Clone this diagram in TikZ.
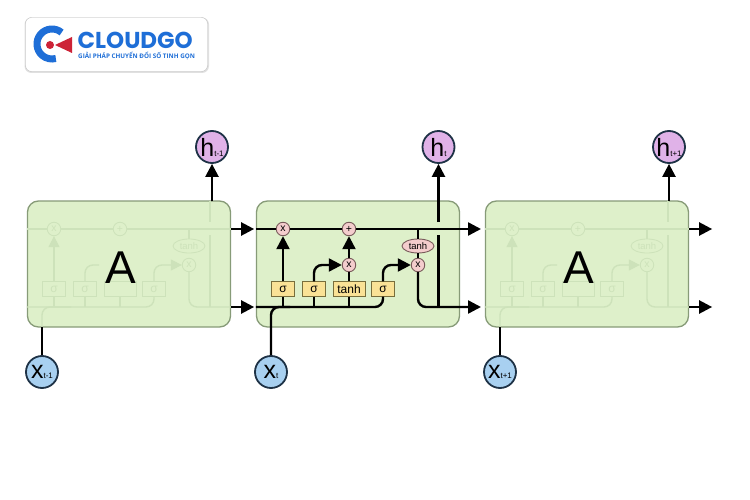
\documentclass[tikz,border=0pt]{standalone}
\usepackage{fontspec}
\setmainfont{Liberation Sans}
\newfontfamily\logofont{Open Sans}
\newfontfamily\logohead{Poppins}
\definecolor{cellfill}{RGB}{222, 240, 202}
\definecolor{celledge}{RGB}{135, 155, 120}
\definecolor{ghostline}{RGB}{205, 226, 186}
\definecolor{layerfill}{RGB}{250, 226, 150}
\definecolor{layeredge}{RGB}{120, 110, 60}
\definecolor{opfill}{RGB}{244, 205, 205}
\definecolor{opedge}{RGB}{120, 90, 90}
\definecolor{inputfill}{RGB}{168, 208, 240}
\definecolor{outputfill}{RGB}{224, 178, 232}
\definecolor{ringedge}{RGB}{30, 50, 70}
\definecolor{logoblue}{RGB}{30, 110, 215}
\definecolor{logored}{RGB}{205, 35, 55}
\usetikzlibrary{arrows.meta, shapes.geometric}
\tikzset{
  cellbox/.style={rectangle, rounded corners=11pt, draw=celledge, line width=1.3pt, fill=cellfill,
    minimum width=203pt, minimum height=126pt, inner sep=0pt},
  wire/.style={line width=2.4pt, black, rounded corners=8pt},
  flow/.style={wire, -{Triangle[length=13pt, width=13pt]}},
  ghostwire/.style={line width=1.4pt, ghostline, rounded corners=8pt},
  ghostflow/.style={ghostwire, -{Triangle[length=11pt, width=11pt]}},
  layerbox/.style={rectangle, draw=layeredge, line width=0.9pt, fill=layerfill, minimum height=14.5pt,
    minimum width=23pt, inner sep=0pt, font=\fontsize{12}{12}\selectfont},
  opnode/.style={circle, draw=opedge, line width=0.9pt, fill=opfill, minimum size=13.5pt, inner sep=0pt,
    font=\fontsize{10.5}{10.5}\selectfont},
  tanhnode/.style={ellipse, draw=opedge, line width=0.9pt, fill=opfill, minimum width=32pt, minimum height=14pt,
    inner sep=0pt, font=\fontsize{9.5}{9.5}\selectfont},
  ghostlayer/.style={rectangle, draw=ghostline, line width=0.8pt, fill=cellfill, minimum height=14.5pt,
    minimum width=23pt, inner sep=0pt, text=ghostline, font=\fontsize{12}{12}\selectfont},
  ghostop/.style={circle, draw=ghostline, line width=0.8pt, fill=cellfill, minimum size=13.5pt, inner sep=0pt,
    text=ghostline, font=\fontsize{10.5}{10.5}\selectfont},
  ghosttanh/.style={ellipse, draw=ghostline, line width=0.8pt, fill=cellfill, minimum width=32pt,
    minimum height=14pt, inner sep=0pt, text=ghostline, font=\fontsize{9.5}{9.5}\selectfont},
  inputnode/.style={circle, draw=ringedge, line width=1.8pt, fill=inputfill, minimum size=32pt, inner sep=0pt},
  outputnode/.style={circle, draw=ringedge, line width=1.8pt, fill=outputfill, minimum size=32pt, inner sep=0pt},
}
\newcommand{\circletext}[2]{{\fontsize{25}{25}\selectfont #1}{\fontsize{8}{8}\selectfont #2}}
\begin{document}
\begin{tikzpicture}[x=1pt, y=-1pt]
  \useasboundingbox (0,0) rectangle (750,500);
  \fill[white] (0,0) rectangle (750,500);

  % logo
  \fill[black!12, rounded corners=7pt] (24.5,17.5) rectangle (209,73);
  \node[rectangle, rounded corners=6pt, draw=black!25, fill=white, minimum width=182pt, minimum height=54pt,
        inner sep=0pt] (logocard) at (116.5,44.5) {};
  \draw[logoblue, line width=7pt] (61.6,32.5) arc[start angle=50, end angle=285, radius=15pt];
  \fill[logored] (72,37) -- (55,45) -- (72,53) -- cycle;
  \fill[logored] (50,45) circle[radius=4pt];
  \node[anchor=west, inner sep=0pt, text=logoblue] (logoname) at (77.5,40.5)
    {\logohead\bfseries\fontsize{23}{23}\selectfont CLOUDGO};
  \node[anchor=west, inner sep=0pt, text=logoblue] (logotag) at (78,56)
    {\logofont\bfseries\fontsize{6.3}{6.3}\selectfont GIẢI PHÁP CHUYỂN ĐỔI SỐ TINH GỌN};

  % side cells
  \foreach \dx/\cellname/\inx/\outx/\cellsub in {-229/left/42/212/t-1, 229/right/500/669/t+1} {
    \begin{scope}[xshift=\dx]
      \node[cellbox] (\cellname box) at (358,264) {};
      \coordinate (\cellname in) at (271,327);
      \coordinate (\cellname tap) at (439,201);
      \node[ghostop] (\cellname m1) at (283,229) {x};
      \node[ghostop] (\cellname p1) at (349,229) {+};
      \node[ghostop] (\cellname m2) at (418,265) {x};
      \node[ghosttanh] (\cellname t) at (418,246) {tanh};
      \node[ghostlayer] (\cellname s1) at (283,289) {σ};
      \node[ghostlayer] (\cellname s2) at (314,289) {σ};
      \node[ghostlayer, minimum width=32pt] (\cellname g) at (349,289) {};
      \node[ghostlayer] (\cellname s3) at (383,289) {σ};
      \draw[ghostwire] (\cellname box.west |- \cellname m1) -- (\cellname m1);
      \draw[ghostwire] (\cellname m1) -- (\cellname p1);
      \draw[ghostwire] (\cellname p1) -- (\cellname box.east |- \cellname p1);
      \draw[ghostwire] (\cellname box.west |- 0,307) -- (383,307) -- (\cellname s3.south);
      \draw[ghostwire] (\cellname in) -- (271,307) -- (300,307);
      \draw[ghostwire] (\cellname s1.south) -- (283,307);
      \draw[ghostwire] (\cellname s2.south) -- (314,307);
      \draw[ghostwire] (\cellname g.south) -- (349,307);
      \draw[ghostflow] (\cellname s1.north) -- (\cellname m1.south);
      \draw[ghostflow] (\cellname s3.north) -- (383,265) -- (\cellname m2.west);
      \draw[ghostwire] (\cellname s2.north) -- (314,265) -- (328,265);
      \draw[ghostwire] (\cellname t.north) -- (418,229);
      \draw[ghostwire] (\cellname m2.south) -- (418,307) -- (\cellname box.east |- 0,307);
      \draw[ghostwire] (\cellname tap) -- (439,222);
      \draw[ghostwire] (439,235) -- (439,307);
      \node[font=\fontsize{46}{46}\selectfont, inner sep=0pt] (\cellname a) at (350,268) {A};
      \coordinate (\cellname top) at (\cellname box.east |- 0,229);
      \coordinate (\cellname bot) at (\cellname box.east |- 0,307);
    \end{scope}
    \node[outputnode] (\cellname h) at (\outx,147) {\circletext{h}{\cellsub}};
    \node[inputnode] (\cellname x) at (\inx,372) {\circletext{x}{\cellsub}};
    \draw[flow] (\cellname h.south |- \cellname tap) -- (\cellname h.south);
    \draw[wire] (\cellname x.north) -- (\cellname x.north |- \cellname in);
    \coordinate (\cellname topend) at ([xshift=23]\cellname top);
    \coordinate (\cellname botend) at ([xshift=23]\cellname bot);
    \draw[flow] (\cellname top) -- (\cellname topend);
    \draw[flow] (\cellname bot) -- (\cellname botend);
  }

  % middle cell
  \node[cellbox] (box) at (358,264) {};
  \node[layerbox] (sigmaf) at (283,289) {σ};
  \node[layerbox] (sigmai) at (314,289) {σ};
  \node[layerbox, minimum width=32pt] (tanhc) at (349,289) {tanh};
  \node[layerbox] (sigmao) at (383,289) {σ};
  \node[outputnode] (ht) at (438.5,147) {\circletext{h}{t}};
  \node[inputnode] (xt) at (271,372) {\circletext{x}{t}};
  \node[opnode] (forget) at (283,229) {x};
  \node[opnode] (add) at (349,229) {+};
  \node[opnode] (gate) at (349,265) {x};
  \node[opnode] (output) at (418,265) {x};
  \node[tanhnode] (tanhout) at (418,246) {tanh};
  \coordinate (cellin) at (box.west |- 0,229);
  \coordinate (cellout) at (481,229);
  \coordinate (hidin) at (box.west |- 0,307);
  \coordinate (hidout) at (481,307);
  \coordinate (tapup) at (438.5,222);
  \coordinate (taplow) at (438.5,235);
  \coordinate (tapjoin) at (438.5,307);

  \draw[wire] (sigmaf.south) -- (sigmaf.south |- hidin);
  \draw[wire] (sigmai.south) -- (sigmai.south |- hidin);
  \draw[wire] (tanhc.south) -- (tanhc.south |- hidin);
  \draw[wire] (hidin) -- (sigmao.south |- hidin) -- (sigmao.south);
  \draw[wire] (xt.north) -- (271,307) -- (290,307);
  \draw[flow] (sigmaf.north) -- (forget.south);
  \draw[flow] (gate.north) -- (add.south);
  \draw[wire] (tanhc.north) -- (gate.south);
  \draw[flow] (sigmai.north) -- (314,265) -- (gate.west);
  \draw[flow] (sigmao.north) -- (383,265) -- (output.west);
  \draw[wire] (tanhout.south) -- (output.north);
  \draw[wire] (tanhout.north) -- (418,229);
  \draw[flow] (output.south) -- (418,307) -- (hidout);
  \draw[wire] (taplow) -- (tapjoin);
  \draw[flow] (tapup) -- (ht.south);
  \draw[wire] (cellin) -- (forget.west);
  \draw[wire] (forget.east) -- (add.west);
  \draw[flow] (add.east) -- (cellout);
\end{tikzpicture}
\end{document}
